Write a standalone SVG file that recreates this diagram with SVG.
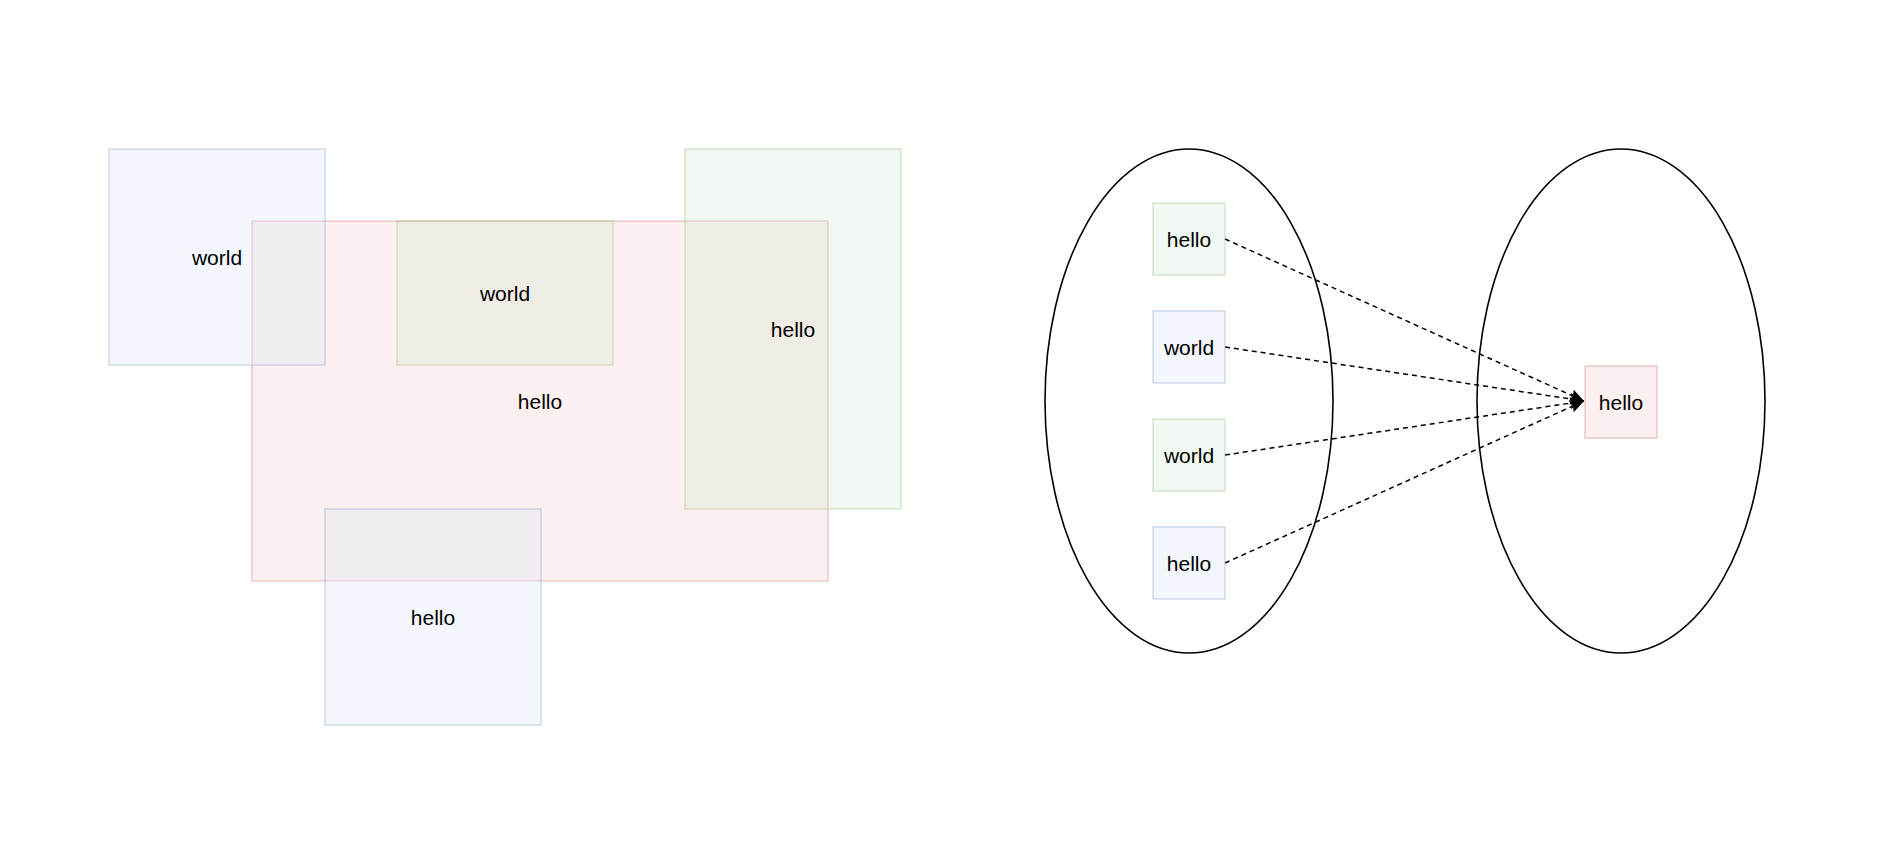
<svg xmlns="http://www.w3.org/2000/svg" width="1902" height="848" viewBox="0 0 1902 848">
<defs>
<style>
.lbl{font-family:"Liberation Sans",Arial,Helvetica,sans-serif;font-size:21px;fill:#000;text-anchor:middle;dominant-baseline:central}
.blue{fill:rgba(218,232,252,0.3);stroke:rgba(108,142,191,0.3);stroke-width:1.5}
.pink{fill:rgba(248,206,204,0.3);stroke:rgba(184,84,80,0.28);stroke-width:1.5}
.green{fill:rgba(213,232,212,0.3);stroke:rgba(130,179,102,0.3);stroke-width:1.5}
.ell{fill:none;stroke:#000;stroke-width:1.6}
.edge{fill:none;stroke:#000;stroke-width:1.5;stroke-dasharray:5 4}
</style>
<marker id="arr" markerUnits="userSpaceOnUse" markerWidth="16" markerHeight="14" refX="15" refY="7" orient="auto">
<path d="M1,1 L15,7 L1,13 L3,7 Z" fill="#000"/>
</marker>
</defs>
<rect width="1902" height="848" fill="#fff"/>
<g id="left">
<g id="pinkBig"><rect class="pink" x="252" y="221" width="576" height="360"/><text class="lbl" x="540" y="401">hello</text></g>
<g id="blueTop"><rect class="blue" x="109" y="149" width="216" height="216"/><text class="lbl" x="217" y="257">world</text></g>
<g id="greenInner"><rect class="green" x="397" y="221" width="216" height="144"/><text class="lbl" x="505" y="293">world</text></g>
<g id="greenTall"><rect class="green" x="685" y="149" width="216" height="360"/><text class="lbl" x="793" y="329">hello</text></g>
<g id="blueBottom"><rect class="blue" x="325" y="509" width="216" height="216"/><text class="lbl" x="433" y="617">hello</text></g>
</g>
<g id="ellipseL"><ellipse class="ell" cx="1189" cy="401" rx="144" ry="252"/></g>
<g id="ellipseR"><ellipse class="ell" cx="1621" cy="401" rx="144" ry="252"/></g>
<g id="connectors">
<line class="edge" x1="1225" y1="239" x2="1584" y2="401" marker-end="url(#arr)"/>
<line class="edge" x1="1225" y1="347" x2="1584" y2="401" marker-end="url(#arr)"/>
<line class="edge" x1="1225" y1="455" x2="1584" y2="401" marker-end="url(#arr)"/>
<line class="edge" x1="1225" y1="563" x2="1584" y2="401" marker-end="url(#arr)"/>
</g>
<g id="n1"><rect class="green" x="1153" y="203" width="72" height="72"/><text class="lbl" x="1189" y="239">hello</text></g>
<g id="n2"><rect class="blue" x="1153" y="311" width="72" height="72"/><text class="lbl" x="1189" y="347">world</text></g>
<g id="n3"><rect class="green" x="1153" y="419" width="72" height="72"/><text class="lbl" x="1189" y="455">world</text></g>
<g id="n4"><rect class="blue" x="1153" y="527" width="72" height="72"/><text class="lbl" x="1189" y="563">hello</text></g>
<g id="target"><rect class="pink" x="1585" y="366" width="72" height="72"/><text class="lbl" x="1621" y="402">hello</text></g>
</svg>
